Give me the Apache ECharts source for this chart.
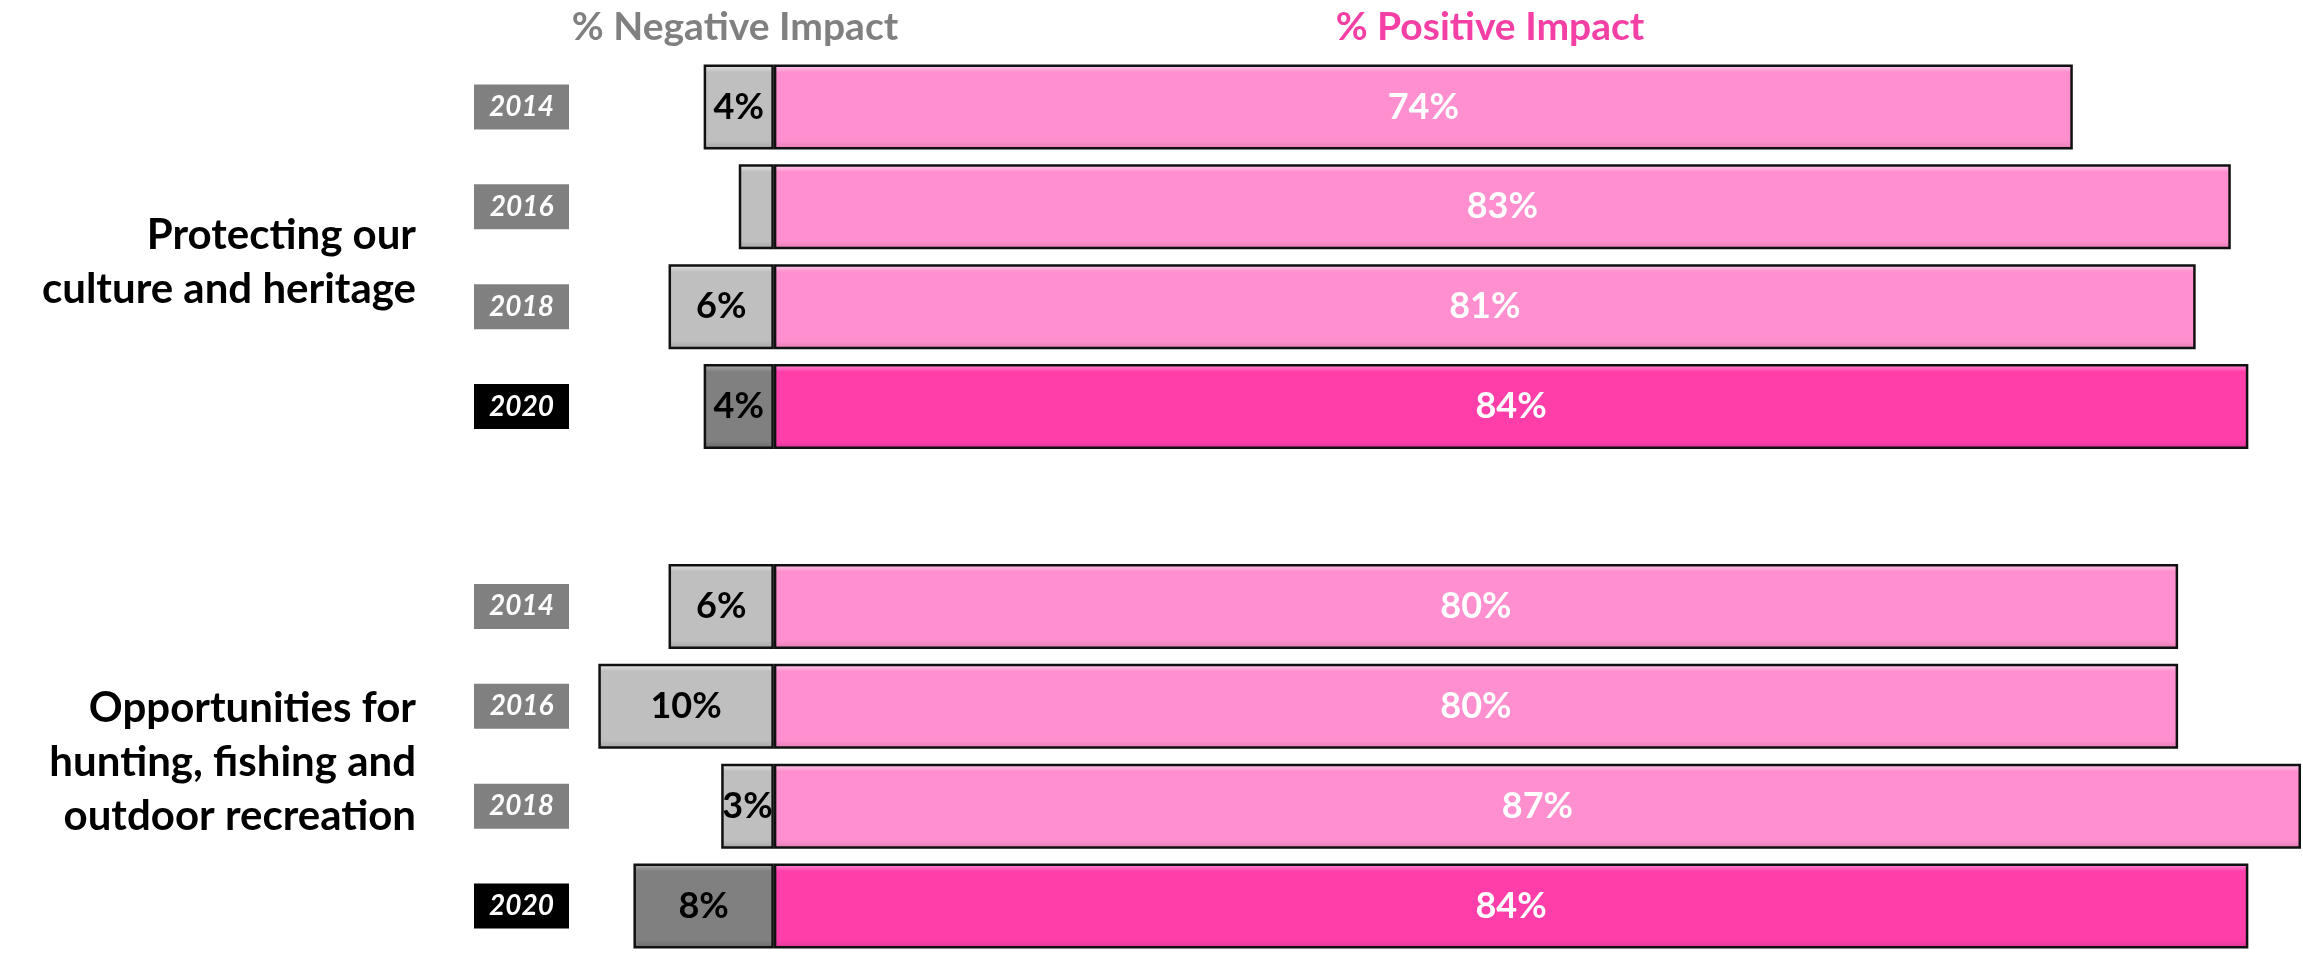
<!DOCTYPE html>
<html>
<head>
<meta charset="utf-8">
<script src="https://cdn.jsdelivr.net/npm/echarts@6/dist/echarts.min.js"></script>
<style>
  html, body { margin: 0; padding: 0; background: #fff; }
  #main { width: 2303px; height: 956px; }
</style>
</head>
<body>
<div id="main"></div>
<script>
// rows top to bottom, '' is the spacer between the two topics
var years = ['2014', '2016', '2018', '2020', '', '2014', '2016', '2018', '2020'];
var negative = [4, 2, 6, 4, null, 6, 10, 3, 8];
var positive = [74, 83, 81, 84, null, 80, 80, 87, 84];
var topics = ['Protecting our\nculture and heritage', 'Opportunities for\nhunting, fishing and\noutdoor recreation'];
var topicRows = [[0, 3], [5, 8]];
var headers = ['% Negative Impact', '% Positive Impact'];

var FONT = 'Lato, "Open Sans", sans-serif';

// bevel look: light top edge, flat body, darker bottom edge
function bevel(top, base, bottom) {
    return new echarts.graphic.LinearGradient(0, 0, 0, 1, [
        { offset: 0, color: top },
        { offset: 0.09, color: base },
        { offset: 0.9, color: base },
        { offset: 1, color: bottom }
    ]);
}

var negData = negative.map(function (v, i) {
    if (v == null) return null;
    var latest = years[i] === '2020';
    return {
        value: -v,
        itemStyle: {
            color: latest ? bevel('#b4b4b4', '#808080', '#6a6a6a') : bevel('#ececec', '#bfbfbf', '#a3a3a3')
        }
    };
});
var posData = positive.map(function (v, i) {
    if (v == null) return null;
    var latest = years[i] === '2020';
    return {
        value: v,
        itemStyle: {
            color: latest ? bevel('#ff9be0', '#ff3eaa', '#d8369a') : bevel('#ffd6f4', '#ff8fce', '#e07fb4')
        }
    };
});

var chart = echarts.init(document.getElementById('main'));

var yearBox = function (bg) {
    return {
        backgroundColor: bg,
        color: '#fff',
        width: 95,
        height: 45,
        align: 'center',
        fontFamily: FONT,
        fontStyle: 'italic',
        fontWeight: 'bold',
        fontSize: 28
    };
};

var option = {
    animation: false,
    grid: {
        left: 572,
        right: 2,
        top: 57,
        height: 906
    },
    xAxis: {
        type: 'value',
        min: -11.5,
        max: 87,
        show: false
    },
    yAxis: {
        type: 'category',
        inverse: true,
        data: years,
        axisLine: { show: false },
        axisTick: { show: false },
        splitLine: { show: false },
        axisLabel: {
            margin: 3,
            formatter: function (val) {
                if (!val) return '';
                return val === '2020' ? '{dark|' + val + '}' : '{grey|' + val + '}';
            },
            rich: {
                grey: yearBox('#808080'),
                dark: yearBox('#000')
            }
        }
    },
    series: [
        {
            name: 'Negative',
            type: 'bar',
            barWidth: 85,
            barGap: '-100%',
            data: negData,
            itemStyle: { borderColor: '#111', borderWidth: 2.5 },
            label: {
                show: true,
                position: 'inside',
                color: '#000',
                fontFamily: FONT,
                fontWeight: 'bold',
                fontSize: 36,
                formatter: function (p) {
                    var v = Math.abs(p.value);
                    return v >= 3 ? v + '%' : '';
                }
            }
        },
        {
            name: 'Positive',
            type: 'bar',
            barWidth: 85,
            barGap: '-100%',
            data: posData,
            itemStyle: { borderColor: '#111', borderWidth: 2.5 },
            label: {
                show: true,
                position: 'inside',
                color: '#fff',
                fontFamily: FONT,
                fontWeight: 'bold',
                fontSize: 36,
                formatter: '{c}%'
            }
        }
    ]
};
chart.setOption(option);

// topic names sit in the middle of their group of rows
var graphics = topics.map(function (t, k) {
    var y0 = chart.convertToPixel({ yAxisIndex: 0 }, topicRows[k][0]);
    var y1 = chart.convertToPixel({ yAxisIndex: 0 }, topicRows[k][1]);
    return {
        type: 'text',
        x: 416,
        y: (y0 + y1) / 2 + 6,
        style: {
            text: t,
            textAlign: 'right',
            textVerticalAlign: 'middle',
            font: 'bold 42px ' + FONT,
            lineHeight: 54,
            fill: '#000'
        }
    };
});
graphics.push({
    type: 'text',
    x: 735,
    y: 27,
    style: {
        text: headers[0],
        textAlign: 'center',
        textVerticalAlign: 'middle',
        font: 'bold 39px ' + FONT,
        fill: '#808080'
    }
});
graphics.push({
    type: 'text',
    x: 1490,
    y: 27,
    style: {
        text: headers[1],
        textAlign: 'center',
        textVerticalAlign: 'middle',
        font: 'bold 39px ' + FONT,
        fill: '#f43fa5'
    }
});
chart.setOption({ graphic: graphics });

window.addEventListener('resize', function () {
    chart.resize();
});
</script>
</body>
</html>
